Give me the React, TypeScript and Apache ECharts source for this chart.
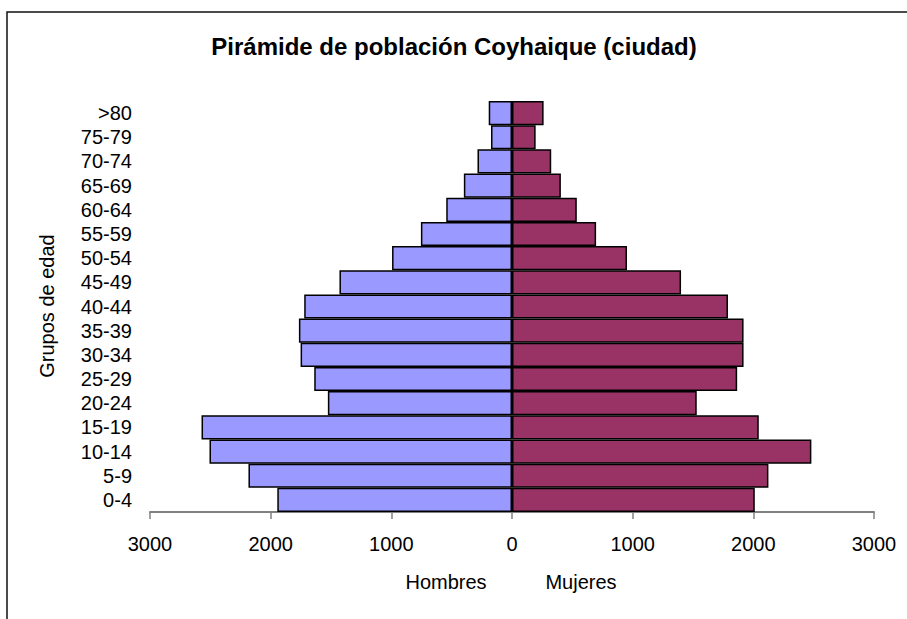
import React, { useEffect, useRef } from "react";
import * as echarts from "echarts";

const categories = ["0-4", "5-9", "10-14", "15-19", "20-24", "25-29", "30-34", "35-39", "40-44", "45-49", "50-54", "55-59", "60-64", "65-69", "70-74", "75-79", ">80"];
const hombres = [1945, 2184, 2507, 2573, 1526, 1639, 1752, 1766, 1722, 1430, 994, 755, 545, 399, 286, 174, 193];
const mujeres = [2012, 2125, 2481, 2045, 1531, 1866, 1919, 1919, 1790, 1401, 953, 697, 537, 405, 325, 196, 262];
const xTicks = { min: -3000, max: 3000, interval: 1000 };
const title = "Pirámide de población Coyhaique (ciudad)";

export default function App() {
  const ref = useRef<HTMLDivElement>(null);
  useEffect(() => {
    if (!ref.current) return;
    const chart = echarts.init(ref.current, null, { renderer: "svg" });
    const font = "Liberation Sans, Arial, sans-serif";
    chart.setOption({
      animation: false,
      backgroundColor: "#fff",
      textStyle: { fontFamily: font },
      grid: { left: 150, right: 33, top: 101, bottom: 107, containLabel: false },
      graphic: [
        { type: "rect", shape: { x: 7, y: 12, width: 1000, height: 700 }, style: { fill: "none", stroke: "#111", lineWidth: 1.5 }, silent: true },
        { type: "text", x: 454, y: 46, style: { text: title, font: `bold 24px ${font}`, fill: "#000", align: "center", verticalAlign: "middle" } },
        { type: "text", x: 47, y: 306, rotation: Math.PI / 2, style: { text: "Grupos de edad", font: `20px ${font}`, fill: "#000", align: "center", verticalAlign: "middle" } },
        { type: "text", x: 446, y: 582, style: { text: "Hombres", font: `20px ${font}`, fill: "#000", align: "center", verticalAlign: "middle" } },
        { type: "text", x: 581, y: 582, style: { text: "Mujeres", font: `20px ${font}`, fill: "#000", align: "center", verticalAlign: "middle" } },
      ],
      xAxis: {
        type: "value",
        min: xTicks.min,
        max: xTicks.max,
        interval: xTicks.interval,
        splitLine: { show: false },
        axisLine: { show: true, lineStyle: { color: "#808080", width: 2 } },
        axisTick: { show: true, length: 7, lineStyle: { color: "#808080", width: 1.5 } },
        axisLabel: { color: "#000", fontSize: 20, fontFamily: font, margin: 22, formatter: (v: number) => String(Math.abs(v)) },
      },
      yAxis: {
        type: "category",
        data: categories,
        axisLine: { show: false, onZero: false },
        axisTick: { show: false },
        axisLabel: { color: "#000", fontSize: 20, fontFamily: font, margin: 18, interval: 0 },
      },
      series: [
        {
          name: "Hombres",
          type: "bar",
          stack: "total",
          barCategoryGap: "0%",
          data: hombres.map((v) => -v),
          itemStyle: { color: "#9999FF", borderColor: "#000", borderWidth: 1.5 },
        },
        {
          name: "Mujeres",
          type: "bar",
          stack: "total",
          barCategoryGap: "0%",
          data: mujeres,
          itemStyle: { color: "#993366", borderColor: "#000", borderWidth: 1.5 },
        },
      ],
    });
    return () => chart.dispose();
  }, []);
  return <div ref={ref} style={{ position: "absolute", left: 0, top: 0, width: 907, height: 619 }} />;
}
